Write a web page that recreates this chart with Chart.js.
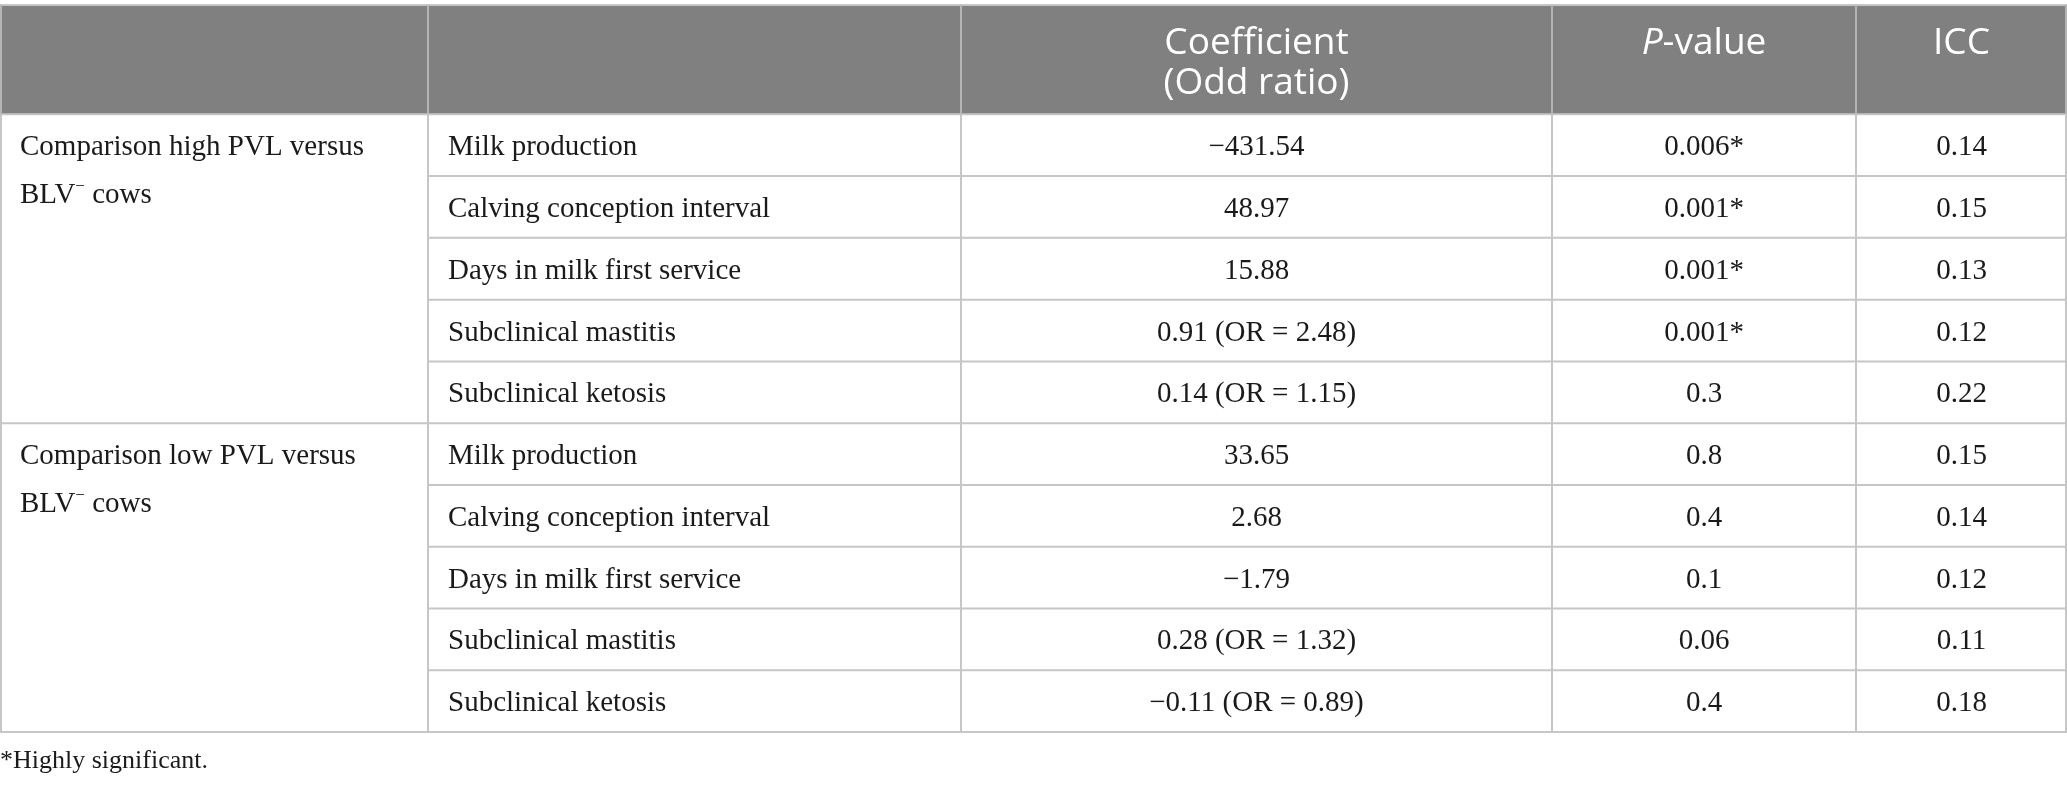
<!DOCTYPE html>
<html>
<head>
<meta charset="utf-8">
<script src="https://cdn.jsdelivr.net/npm/chart.js@4.4.1/dist/chart.umd.min.js"></script>
<style>
  html, body { margin: 0; padding: 0; background: #fff; }
  #wrap { width: 2067px; height: 787px; position: relative; }
</style>
</head>
<body>
<div id="wrap"><canvas id="table"></canvas></div>
<script>
// table contents
const groupLabels = [
  ['Comparison high PVL versus', 'BLV⁻ cows'],
  ['Comparison low PVL versus', 'BLV⁻ cows'],
]
const outcomes = ['Milk production', 'Calving conception interval', 'Days in milk first service', 'Subclinical mastitis', 'Subclinical ketosis']
const coefficients = [
  '−431.54', '48.97', '15.88', '0.91 (OR = 2.48)', '0.14 (OR = 1.15)',
  '33.65', '2.68', '−1.79', '0.28 (OR = 1.32)', '−0.11 (OR = 0.89)',
]
const pValues = ['0.006*', '0.001*', '0.001*', '0.001*', '0.3', '0.8', '0.4', '0.1', '0.06', '0.4']
const iccValues = ['0.14', '0.15', '0.13', '0.12', '0.22', '0.15', '0.14', '0.12', '0.11', '0.18']
const headerLabels = [[], [], ['Coefficient', '(Odd ratio)'], ['_P_-value'], ['ICC']]
const footnote = '*Highly significant.'

// layout: x in table units across the page, y in body rows
const colEdges = [0, 428, 961, 1552, 1856, 2067]
const cellPad = 20
const headerRows = 1.77
const rowCount = groupLabels.length * outcomes.length

const serif = '"Liberation Serif", "Times New Roman", serif'
const sans = '"Open Sans", "Noto Sans", sans-serif'
const bodyFont = '29px ' + serif
const headFont = '37px ' + sans

const leftOf = (c) => colEdges[c] + cellPad
const midOf = (c) => (colEdges[c] + colEdges[c + 1]) / 2

function cellSet(texts, points, align, font, color) {
  return {
    data: points,
    texts: texts,
    align: align,
    font: font,
    color: color,
    pointRadius: 0,
    pointHoverRadius: 0,
  }
}

const groupTexts = [], groupPts = []
groupLabels.forEach((lines, g) => {
  lines.forEach((line, k) => {
    groupTexts.push(line)
    groupPts.push({ x: leftOf(0), y: g * outcomes.length + 0.54 + k * 0.78 })
  })
})

const outcomeTexts = [], outcomePts = []
groupLabels.forEach((_, g) => {
  outcomes.forEach((o, i) => {
    outcomeTexts.push(o)
    outcomePts.push({ x: leftOf(1), y: g * outcomes.length + i + 0.54 })
  })
})

const rowPts = (c) => coefficients.map((_, r) => ({ x: midOf(c), y: r + 0.54 }))

const headTexts = [], headPts = []
headerLabels.forEach((lines, c) => {
  lines.forEach((line, k) => {
    headTexts.push(line)
    headPts.push({ x: midOf(c), y: -headerRows + 0.63 + k * 0.64 })
  })
})

const datasets = [
  cellSet(groupTexts, groupPts, 'left', bodyFont, '#1a1a1a'),
  cellSet(outcomeTexts, outcomePts, 'left', bodyFont, '#1a1a1a'),
  cellSet(coefficients, rowPts(2), 'center', bodyFont, '#1a1a1a'),
  cellSet(pValues, rowPts(3), 'center', bodyFont, '#1a1a1a'),
  cellSet(iccValues, rowPts(4), 'center', bodyFont, '#1a1a1a'),
  cellSet(headTexts, headPts, 'center', headFont, '#ffffff'),
  cellSet([footnote], [{ x: 0, y: rowCount + 0.48 }], 'left', '26px ' + serif, '#1a1a1a'),
]

// split a label into runs: _x_ is italic, ⁻ is a raised minus
function runsOf(text) {
  const runs = []
  let italic = false
  let buf = ''
  const flush = (sup) => { if (buf) runs.push({ t: buf, italic: italic, sup: sup }); buf = '' }
  for (const ch of text) {
    if (ch === '_') { flush(false); italic = !italic }
    else if (ch === '⁻') { flush(false); buf = '−'; flush(true) }
    else buf += ch
  }
  flush(false)
  return runs
}

function drawRich(ctx, text, x, y, align, font) {
  const size = parseFloat(font)
  const family = font.slice(font.indexOf('px') + 3)
  const runs = runsOf(text)
  const fontFor = (r) => (r.italic ? 'italic ' : '') + (r.sup ? Math.round(size * 0.6) : size) + 'px ' + family
  let width = 0
  runs.forEach((r) => { ctx.font = fontFor(r); r.w = ctx.measureText(r.t).width; width += r.w })
  let cx = align === 'center' ? x - width / 2 : x
  runs.forEach((r) => {
    ctx.font = fontFor(r)
    ctx.fillText(r.t, cx, r.sup ? y - size * 0.33 : y)
    cx += r.w
  })
}

const tablePlugin = {
  id: 'tableCells',
  afterDraw(chart) {
    const { ctx } = chart
    const x = chart.scales.x, y = chart.scales.y
    const top = y.getPixelForValue(-headerRows)
    const head = y.getPixelForValue(0)
    const bottom = y.getPixelForValue(rowCount)
    const left = x.getPixelForValue(colEdges[0]) + 1
    const right = x.getPixelForValue(colEdges[colEdges.length - 1]) - 1

    ctx.save()
    ctx.fillStyle = '#7f807f'
    ctx.fillRect(left, top, right - left, head - top)

    ctx.lineWidth = 2
    ctx.strokeStyle = '#c6c6c6'
    const hline = (y0, x0) => { ctx.beginPath(); ctx.moveTo(x0, y0); ctx.lineTo(right + 1, y0); ctx.stroke() }
    hline(top, left - 1)
    for (let r = 0; r <= rowCount; r++) {
      const py = y.getPixelForValue(r)
      hline(py, r % outcomes.length === 0 ? left - 1 : x.getPixelForValue(colEdges[1]))
    }
    colEdges.forEach((e, i) => {
      let px = x.getPixelForValue(e)
      if (i === 0) px = left
      if (i === colEdges.length - 1) px = right
      ctx.strokeStyle = '#b4b4b4'
      ctx.beginPath(); ctx.moveTo(px, top); ctx.lineTo(px, head); ctx.stroke()
      ctx.strokeStyle = '#c6c6c6'
      ctx.beginPath(); ctx.moveTo(px, head); ctx.lineTo(px, bottom); ctx.stroke()
    })

    ctx.textBaseline = 'middle'
    chart.data.datasets.forEach((ds, i) => {
      const meta = chart.getDatasetMeta(i)
      ctx.fillStyle = ds.color
      meta.data.forEach((pt, j) => {
        drawRich(ctx, ds.texts[j], pt.x, pt.y, ds.align, ds.font)
      })
    })
    ctx.restore()
  }
}

new Chart(document.getElementById('table'), {
  type: 'scatter',
  data: { datasets: datasets },
  options: {
    responsive: true,
    maintainAspectRatio: false,
    animation: false,
    events: [],
    layout: { padding: { top: 5, bottom: 55, left: 0, right: 0 } },
    plugins: { legend: { display: false }, tooltip: { enabled: false } },
    scales: {
      x: { type: 'linear', display: false, min: colEdges[0], max: colEdges[colEdges.length - 1] },
      y: { type: 'linear', display: false, reverse: true, min: -headerRows, max: rowCount },
    },
  },
  plugins: [tablePlugin],
})
</script>
</body>
</html>
